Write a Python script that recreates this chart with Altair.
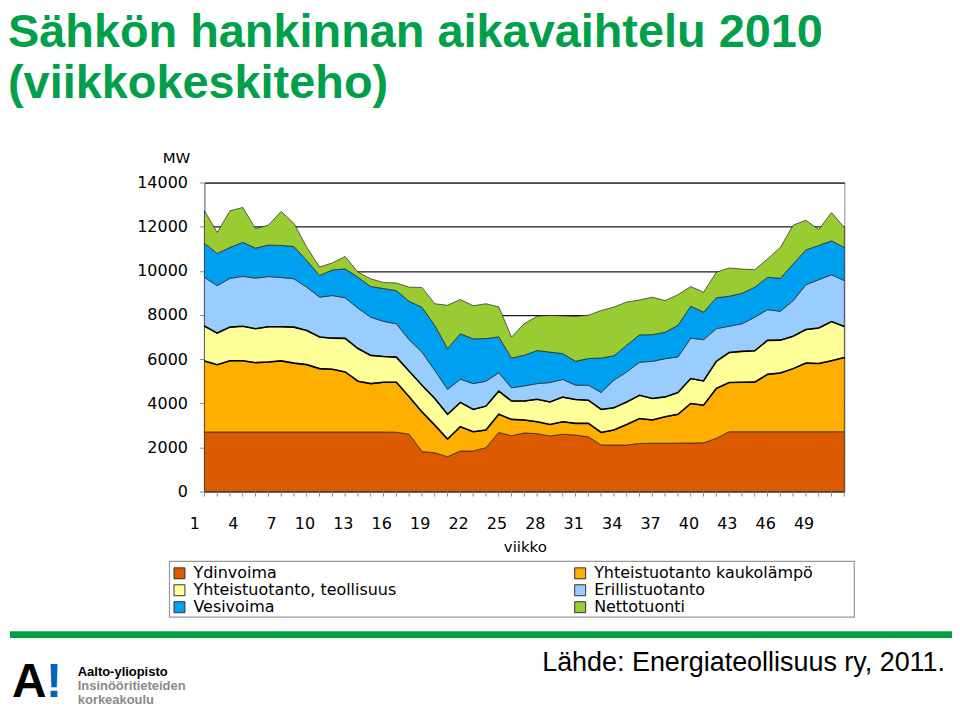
import altair as alt
import pandas as pd

weeks = list(range(1, 52))
label_weeks = list(range(1, 50, 3))
series_names = ["Ydinvoima", "Yhteistuotanto kaukolämpö", "Yhteistuotanto, teollisuus",
                "Erillistuotanto", "Vesivoima", "Nettotuonti"]
colors = ["#DC5A00", "#FFAF00", "#FFFF99", "#99CCFF", "#00A0F0", "#99CC33"]
# legend reading order (two columns, filled column by column)
legend_order = ["Ydinvoima", "Yhteistuotanto, teollisuus", "Vesivoima",
                "Yhteistuotanto kaukolämpö", "Erillistuotanto", "Nettotuonti"]

ydinvoima = [2700] * 15 + [2690, 2600, 1810, 1760, 1580, 1840, 1840, 1990, 2680, 2530, 2660,
                           2620, 2520, 2600, 2560, 2480, 2110, 2110, 2110, 2180, 2190, 2190,
                           2200, 2200, 2210, 2410] + [2710] * 10
kaukolampo = [3220, 3050, 3230, 3230, 3140, 3170, 3220, 3120, 3050, 2870, 2840, 2720, 2300,
              2190, 2250, 2260, 1700, 1800, 1250, 800, 1100, 870, 800, 820, 740, 580, 540,
              520, 560, 530, 610, 570, 680, 930, 1130, 1050, 1200, 1300, 1790, 1700, 2260,
              2230, 2240, 2250, 2600, 2660, 2860, 3110, 3090, 3220, 3360]
teollisuus = [1580, 1430, 1520, 1560, 1540, 1600, 1550, 1630, 1550, 1430, 1410, 1520, 1480,
              1280, 1170, 1140, 1150, 1210, 1210, 1120, 1100, 1010, 1080, 1050, 830, 860,
              1020, 1020, 1120, 1080, 1050, 1040, 1010, 1020, 1050, 980, 900, 990, 1130, 1100,
              1230, 1360, 1400, 1420, 1540, 1490, 1470, 1520, 1610, 1770, 1410]
erillis = [2210, 2150, 2210, 2260, 2290, 2270, 2230, 2190, 1960, 1810, 1930, 1840, 1830, 1730,
           1590, 1510, 1430, 1500, 1280, 1130, 1050, 1170, 1130, 830, 600, 690, 710, 880, 800,
           650, 680, 770, 1250, 1360, 1500, 1680, 1730, 1610, 1830, 1870, 1480, 1190, 1250,
           1520, 1390, 1310, 1610, 2030, 2190, 2120, 2080]
vesivoima = [1540, 1460, 1400, 1540, 1360, 1430, 1450, 1460, 1210, 980, 1160, 1310, 1400, 1390,
             1490, 1500, 1740, 2030, 2030, 1850, 2060, 2030, 1930, 1630, 1350, 1390, 1500,
             1380, 1170, 1080, 1210, 1560, 1100, 1210, 1240, 1210, 1200, 1430, 1450, 1250,
             1400, 1360, 1380, 1360, 1470, 1490, 1660, 1580, 1550, 1540, 1500]
nettotuonti = [1480, 950, 1660, 1580, 880, 900, 1540, 1050, 600, 380, 320, 560, 230, 350, 270,
               350, 640, 900, 980, 1960, 1550, 1500, 1580, 1360, 950, 1430, 1550, 1660, 1710,
               2030, 1960, 2150, 2210, 1960, 1580, 1700, 1430, 1390, 890, 900, 1160, 1280, 1100,
               790, 830, 1400, 1760, 1340, 720, 1280, 900]

y_ticks = [0, 2000, 4000, 6000, 8000, 10000, 12000, 14000]

all_series = [ydinvoima, kaukolampo, teollisuus, erillis, vesivoima, nettotuonti]
rows = []
for k, (name, vals) in enumerate(zip(series_names, all_series)):
    for w, v in zip(weeks, vals):
        rows.append({"week": w, "series": name, "value": v, "order": k})
df = pd.DataFrame(rows)
color_of = dict(zip(series_names, colors))

FONT = "Liberation Sans"
AXFONT = "DejaVu Sans"
x_scale = alt.Scale(domain=[1, 51], nice=False, zero=False)
y_scale = alt.Scale(domain=[0, 14000], nice=False)

x_enc = alt.X("week:Q", scale=x_scale,
              axis=alt.Axis(values=label_weeks, title=None, grid=False, domainColor="#888",
                            ticks=False, labelPadding=24, labelFontSize=16, labelFont=AXFONT,
                            labelColor="#000", labelAlign="right", labelOffset=-5,
                            labelFlush=False, labelOverlap=False, format="d"))

areas = alt.Chart(df).mark_area(stroke="#222", strokeWidth=0.7, opacity=1).encode(
    x=x_enc,
    y=alt.Y("value:Q", stack="zero", scale=y_scale,
            axis=alt.Axis(values=y_ticks, title=None, grid=True, gridColor="#1a1a1a", gridWidth=1.3,
                          domainColor="#888", tickColor="#888", tickSize=5, labelPadding=12,
                          labelFontSize=16, labelFont=AXFONT, labelColor="#000", format="d")),
    color=alt.Color("series:N",
                    scale=alt.Scale(domain=legend_order, range=[color_of[s] for s in legend_order]),
                    legend=alt.Legend(orient="none", legendX=-33, legendY=384, columns=2,
                                      columnPadding=176, rowPadding=1, title=None,
                                      symbolType="square", symbolSize=121,
                                      symbolStrokeColor="#333", symbolStrokeWidth=1,
                                      symbolOpacity=1, labelFontSize=16, labelFont=AXFONT,
                                      labelColor="#000", labelOffset=6, labelLimit=0, padding=0)),
    order=alt.Order("order:Q", sort="ascending"),
)

edges = alt.Chart(df).transform_stack(
    stack="value", groupby=["week"], as_=["lo", "hi"], sort=[alt.SortField("order", order="ascending")]
).transform_filter(
    "datum.order == 1 || datum.order == 2"
).mark_line(color="#000", strokeWidth=1.6).encode(
    x=alt.X("week:Q", scale=x_scale),
    y=alt.Y("hi:Q", scale=y_scale),
    detail="series:N",
)

week_ticks = alt.Chart(pd.DataFrame({"week": weeks})).mark_rule(color="#888", strokeWidth=1).encode(
    x=alt.X("week:Q", scale=x_scale),
    y=alt.value(310), y2=alt.value(315),
)

one = pd.DataFrame({"a": [0]})


def txt(text, x, y, size, color="#000", weight="normal", align="left", font=FONT):
    return alt.Chart(one).mark_text(text=text, fontSize=size, font=font, fontWeight=weight,
                                    color=color, align=align, baseline="alphabetic").encode(
        x=alt.value(x), y=alt.value(y))


def box(x, x2, y, y2, fill, stroke=None):
    kw = {"fill": fill}
    if stroke:
        kw["stroke"] = stroke
        kw["strokeWidth"] = 1.2
    return alt.Chart(one).mark_rect(**kw).encode(
        x=alt.value(x), x2=alt.value(x2), y=alt.value(y), y2=alt.value(y2))


GREEN = "#00A04A"
decor = [
    txt("Sähkön hankinnan aikavaihtelu 2010", -197, -136, 47, GREEN, "bold"),
    txt("(viikkokeskiteho)", -197, -85, 47, GREEN, "bold"),
    txt("MW", -28, -20, 15, align="center", font=AXFONT),
    txt("viikko", 322, 371, 15, align="center", font=AXFONT),
    box(-35, 652, 380, 436, "transparent", "#999"),
    box(-195, 750, 450, 457, "#00A040"),
    txt("Lähde: Energiateollisuus ry, 2011.", 743, 490, 27, align="right"),
    txt("A", -193, 516, 48, "#000", "bold"),
    txt("!", -159, 516, 48, "#0065BD", "bold"),
    txt("Aalto-yliopisto", -127, 495, 13, "#000", "bold"),
    txt("Insinööritieteiden", -127, 509, 13, "#8a8a8a", "bold"),
    txt("korkeakoulu", -127, 523, 13, "#8a8a8a", "bold"),
]

chart = alt.layer(areas, edges, week_ticks, *decor).properties(
    width=642, height=310,
    autosize=alt.AutoSizeParams(type="none"),
    padding={"left": 197, "top": 174, "right": 108, "bottom": 216},
).configure_view(stroke="#888", strokeWidth=1)

chart.save("out.html", embed_options={"renderer": "svg", "actions": False})
